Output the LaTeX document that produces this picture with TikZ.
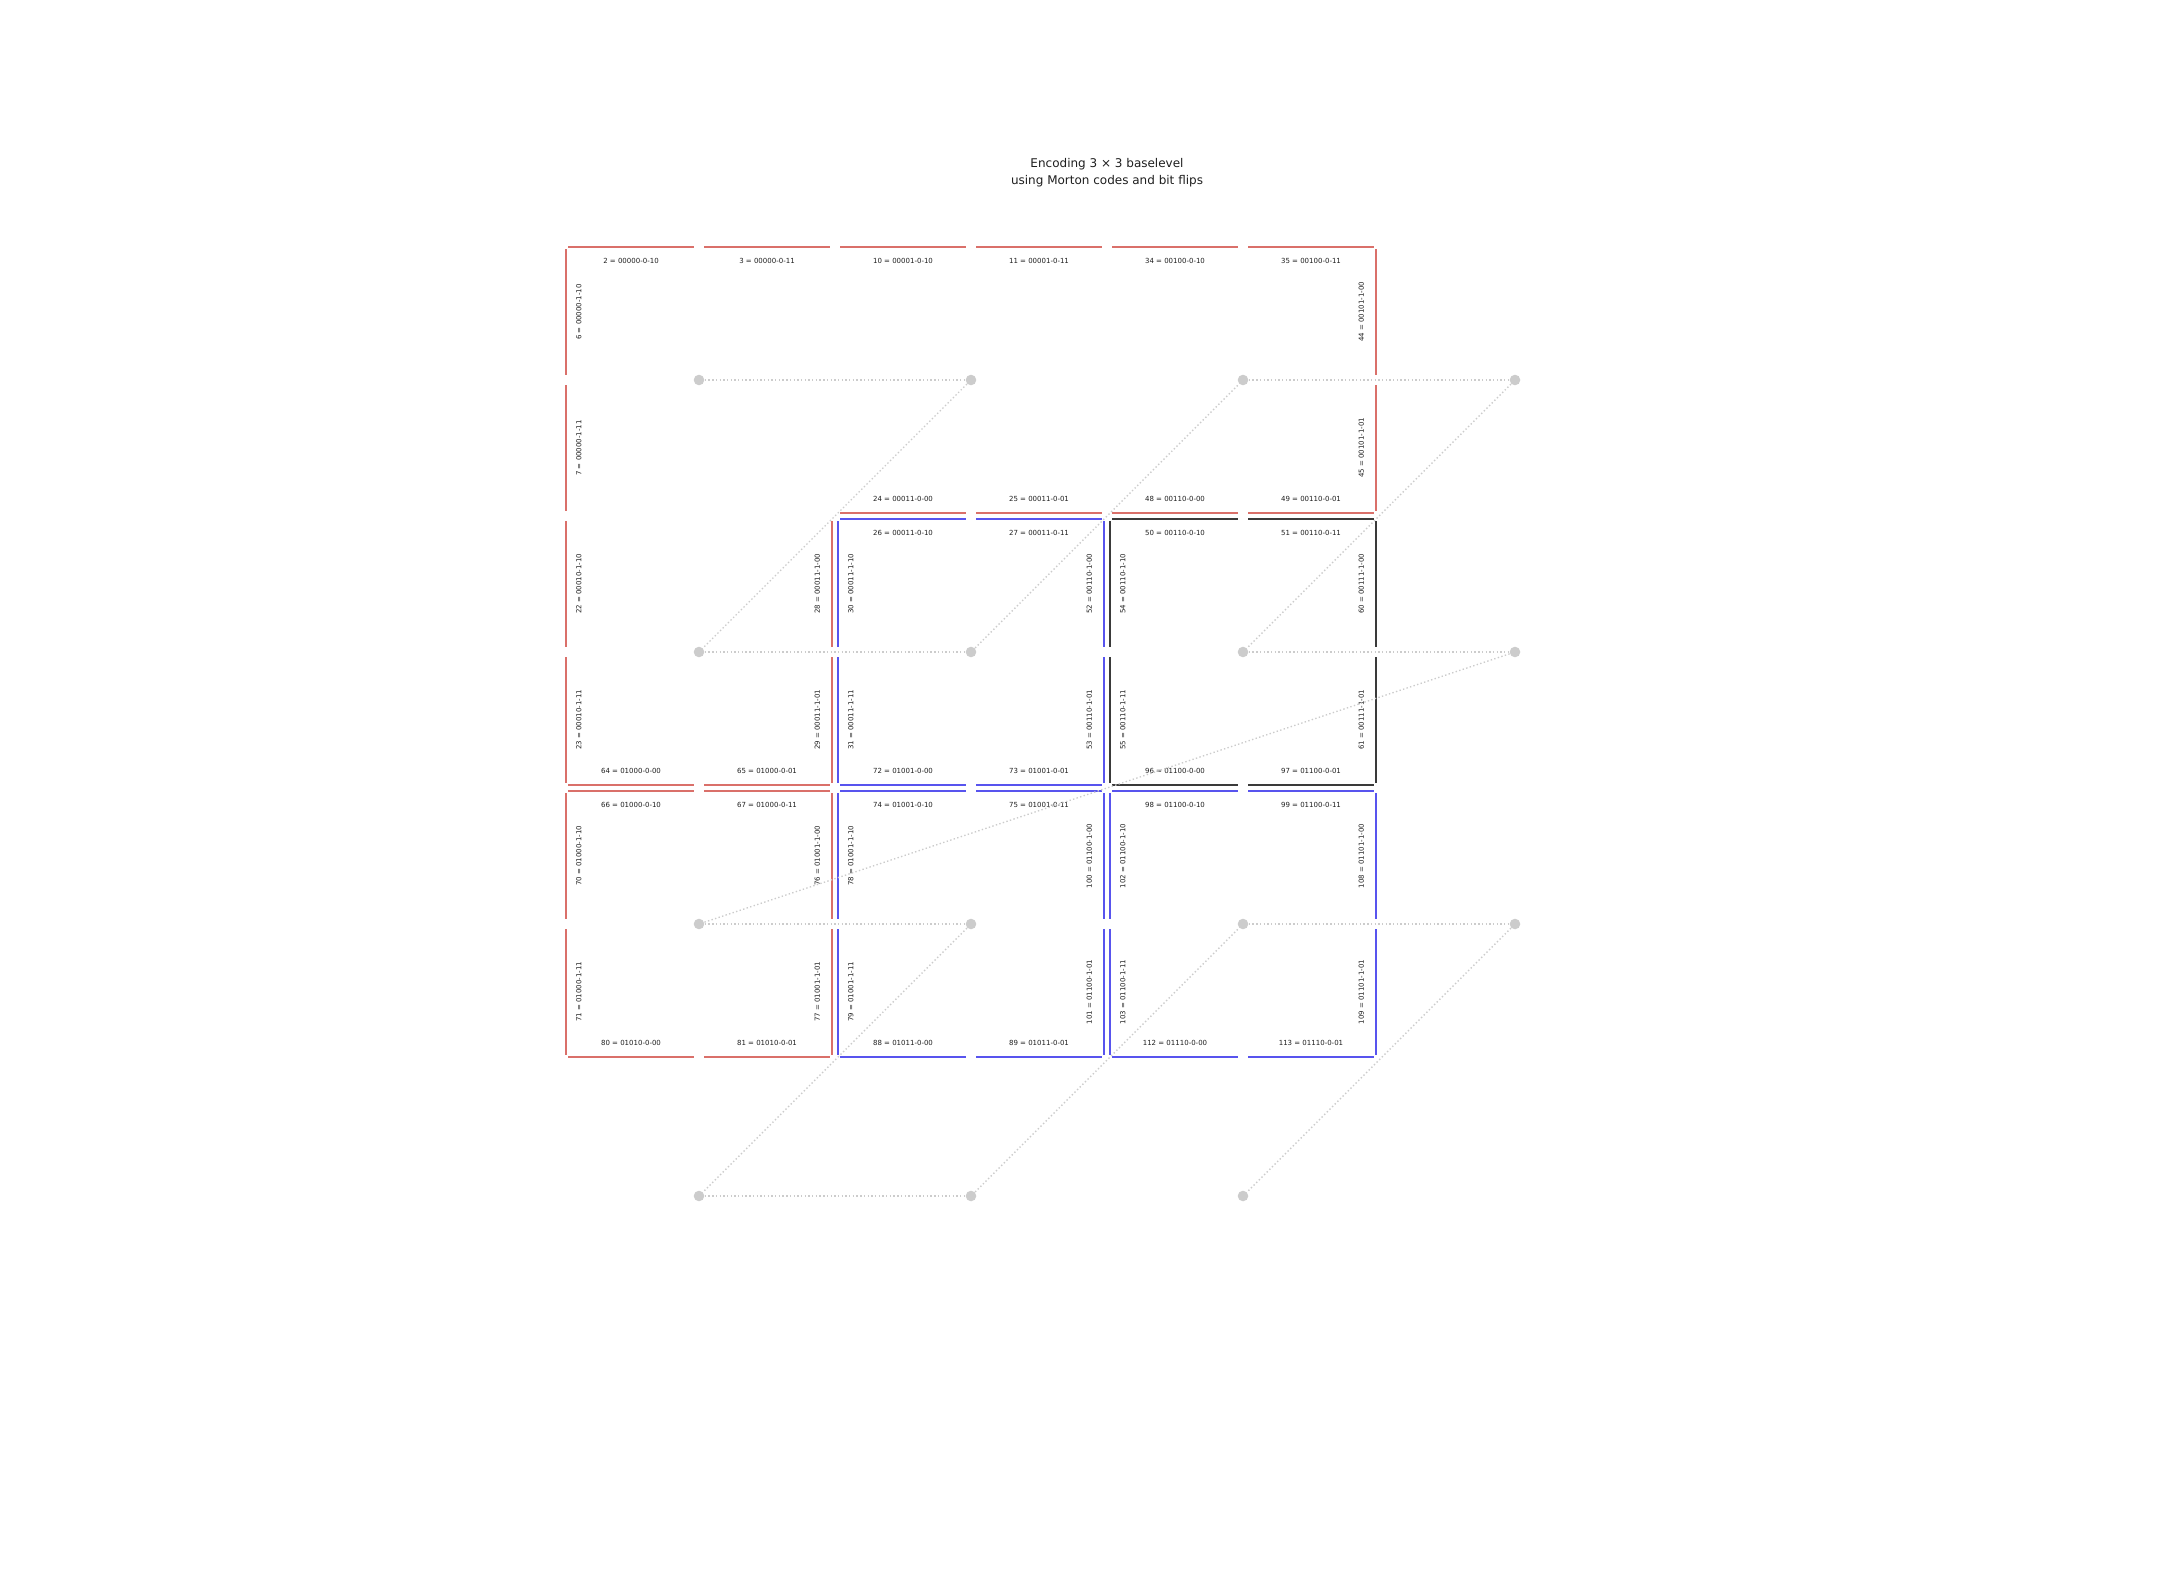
\documentclass[tikz,border=0pt]{standalone}
\usepackage{fontspec}
\setmainfont{DejaVu Sans}
\definecolor{cred}{RGB}{218,112,106}
\definecolor{cblue}{RGB}{88,84,238}
\definecolor{cblack}{RGB}{58,58,58}
\definecolor{cdot}{RGB}{204,204,204}
\definecolor{ctext}{RGB}{30,30,30}
\begin{document}
\begin{tikzpicture}[x=0.5pt,y=-0.5pt,
  seg/.style={line width=1.1pt},
  lbl/.style={font=\fontsize{3.5pt}{4.2pt}\selectfont, text=ctext, inner sep=0pt},
  zdot/.style={circle, fill=cdot, inner sep=0pt, minimum size=5.3pt},
  zline/.style={draw=cdot, line width=0.7pt, dash pattern=on 0.7pt off 1.15pt},
  ttl/.style={font=\fontsize{6pt}{8.35pt}\selectfont, text=ctext, align=center, inner sep=0pt}]
\useasboundingbox (0,0) rectangle (2160,1584);

\node[ttl] (title) at (1107,172.5) {Encoding 3 × 3 baselevel\\using Morton codes and bit flips};

% horizontal edge segments: colour / column / boundary row / side / numbers and codes
\foreach \c/\i/\j/\s/\na/\ta/\nb/\tb in {
  cred/0/0/1/2/00000-0-10/3/00000-0-11,
  cred/1/0/1/10/00001-0-10/11/00001-0-11,
  cred/2/0/1/34/00100-0-10/35/00100-0-11,
  cred/1/1/-1/24/00011-0-00/25/00011-0-01,
  cblue/1/1/1/26/00011-0-10/27/00011-0-11,
  cred/2/1/-1/48/00110-0-00/49/00110-0-01,
  cblack/2/1/1/50/00110-0-10/51/00110-0-11,
  cred/0/2/-1/64/01000-0-00/65/01000-0-01,
  cred/0/2/1/66/01000-0-10/67/01000-0-11,
  cblue/1/2/-1/72/01001-0-00/73/01001-0-01,
  cblue/1/2/1/74/01001-0-10/75/01001-0-11,
  cblack/2/2/-1/96/01100-0-00/97/01100-0-01,
  cblue/2/2/1/98/01100-0-10/99/01100-0-11,
  cred/0/3/-1/80/01010-0-00/81/01010-0-01,
  cblue/1/3/-1/88/01011-0-00/89/01011-0-01,
  cblue/2/3/-1/112/01110-0-00/113/01110-0-01}{
  \pgfmathsetmacro\xa{563+272*\i}
  \pgfmathsetmacro\yl{244+272*\j+3*\s}
  \pgfmathsetmacro\yt{244+272*\j+16.7*\s}
  \draw[seg,\c] (\xa+5,\yl) -- (\xa+131,\yl);
  \draw[seg,\c] (\xa+141,\yl) -- (\xa+267,\yl);
  \node[lbl] (l\na) at (\xa+68,\yt) {\na{} = \ta};
  \node[lbl] (l\nb) at (\xa+204,\yt) {\nb{} = \tb};
}

% vertical edge segments: colour / boundary column / row / side / numbers and codes
\foreach \c/\i/\j/\s/\na/\ta/\nb/\tb in {
  cred/0/0/1/6/00000-1-10/7/00000-1-11,
  cred/0/1/1/22/00010-1-10/23/00010-1-11,
  cred/0/2/1/70/01000-1-10/71/01000-1-11,
  cred/1/1/-1/28/00011-1-00/29/00011-1-01,
  cblue/1/1/1/30/00011-1-10/31/00011-1-11,
  cred/1/2/-1/76/01001-1-00/77/01001-1-01,
  cblue/1/2/1/78/01001-1-10/79/01001-1-11,
  cblue/2/1/-1/52/00110-1-00/53/00110-1-01,
  cblack/2/1/1/54/00110-1-10/55/00110-1-11,
  cblue/2/2/-1/100/01100-1-00/101/01100-1-01,
  cblue/2/2/1/102/01100-1-10/103/01100-1-11,
  cred/3/0/-1/44/00101-1-00/45/00101-1-01,
  cblack/3/1/-1/60/00111-1-00/61/00111-1-01,
  cblue/3/2/-1/108/01101-1-00/109/01101-1-01}{
  \pgfmathsetmacro\ya{244+272*\j}
  \pgfmathsetmacro\xl{563+272*\i+3*\s}
  \pgfmathsetmacro\xt{563+272*\i+16.75*\s-1}
  \draw[seg,\c] (\xl,\ya+5) -- (\xl,\ya+131);
  \draw[seg,\c] (\xl,\ya+141) -- (\xl,\ya+267);
  \node[lbl,rotate=90] (l\na) at (\xt,\ya+68) {\na{} = \ta};
  \node[lbl,rotate=90] (l\nb) at (\xt,\ya+204) {\nb{} = \tb};
}

% Morton (Z-order) curve through the cell centres
\foreach \k/\cx/\cy in {0/0/0,1/1/0,2/0/1,3/1/1,4/2/0,5/3/0,6/2/1,7/3/1,
                        8/0/2,9/1/2,10/0/3,11/1/3,12/2/2,13/3/2,14/2/3}{
  \node[zdot] (d\k) at (699+272*\cx,380+272*\cy) {};
}
\foreach \k [evaluate=\k as \n using int(\k+1)] in {0,...,13}{
  \draw[zline] (d\k) -- (d\n);
}
\end{tikzpicture}
\end{document}
